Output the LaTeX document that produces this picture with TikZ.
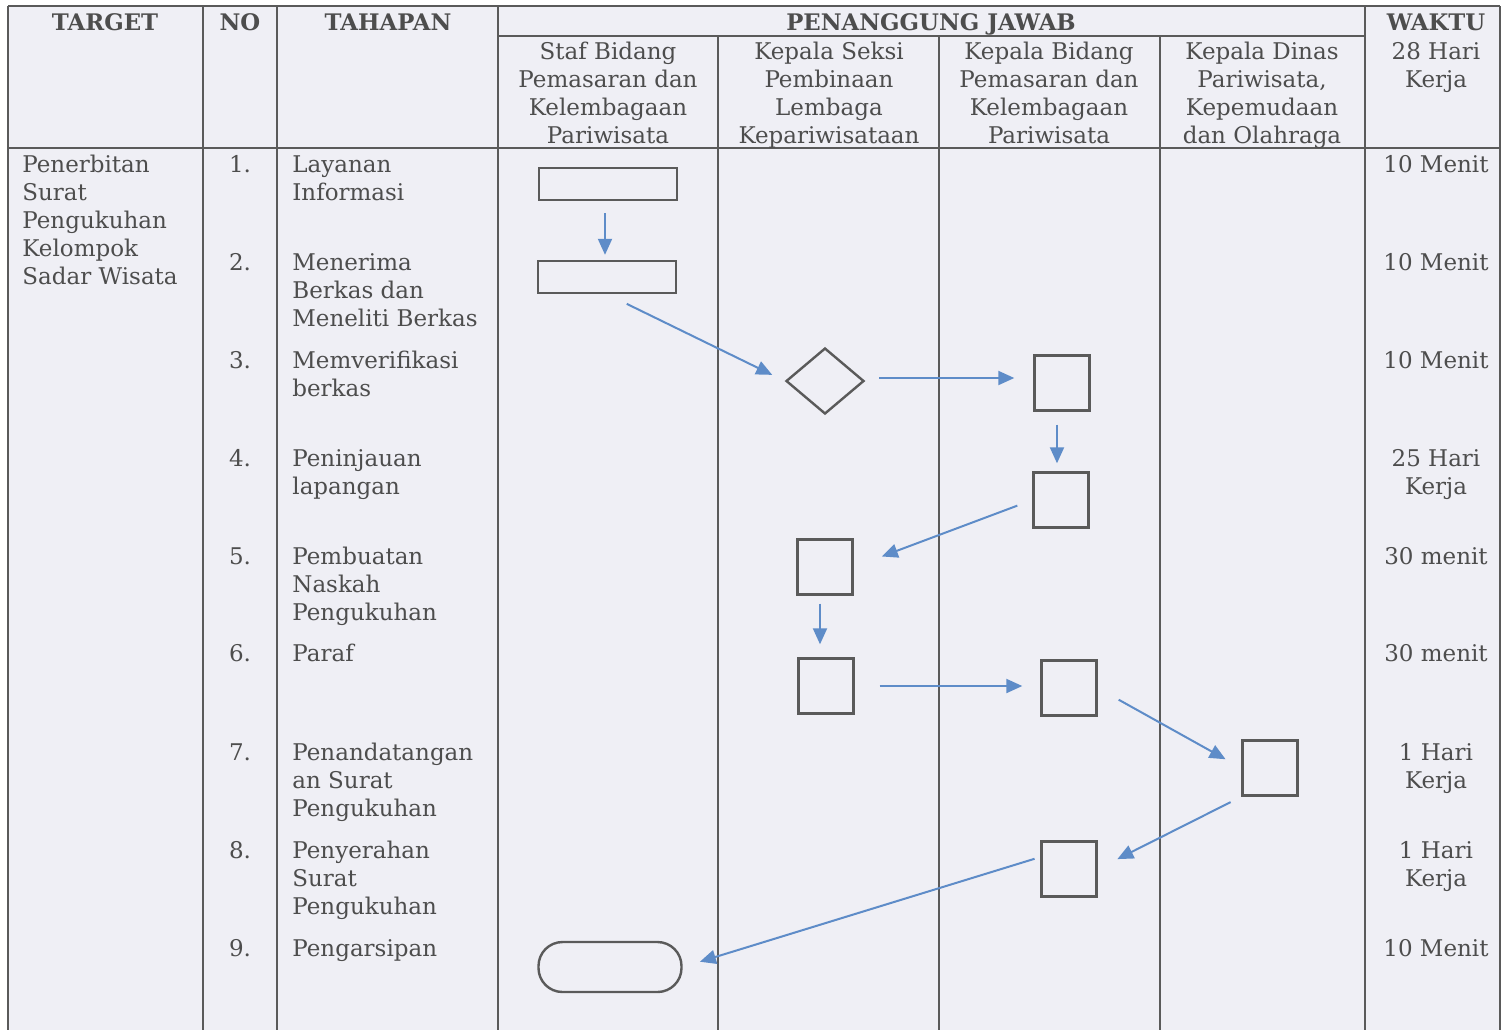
\documentclass[tikz,border=0pt]{standalone}
\usepackage{fontspec}
\setmainfont{DejaVu Serif}
\usetikzlibrary{arrows.meta,shapes.geometric}
\definecolor{ink}{HTML}{4D4D4D}
\definecolor{rule}{HTML}{5A5A5A}
\definecolor{lane}{HTML}{EFEFF5}
\definecolor{flow}{HTML}{5E8CC8}

\begin{document}
\begin{tikzpicture}[x=0.5pt,y=-0.5pt,
		every node/.style={font=\fontsize{11.5}{14}\selectfont, text=ink, inner sep=0pt},
		head/.style={font=\fontsize{11.4}{14}\selectfont\bfseries, anchor=north},
		sub/.style={anchor=north, align=center},
		txt/.style={anchor=north west, align=left},
		proc/.style={draw=rule, line width=1.2pt, minimum width=27.5pt, minimum height=27.5pt},
		wide/.style={proc, minimum width=69pt, minimum height=16pt},
		decide/.style={draw=rule, line width=1.2pt, diamond, minimum width=39pt, minimum height=33pt},
		term/.style={draw=rule, line width=1.2pt, rounded corners=12pt, minimum width=71.5pt, minimum height=25pt},
		arr/.style={-{Triangle[length=8pt,width=7pt]}, draw=flow, line width=1pt}
	]
	\useasboundingbox (0,0) rectangle (1510,1030);
	\fill[lane] (8,6) rectangle (1500,1030);
	\foreach \x in {8,203,277,498,1365,1500}
		\draw[rule, line width=0.9pt] (\x,6) -- (\x,1030);
	\foreach \x in {718,939,1160}
		\draw[rule, line width=0.9pt] (\x,36) -- (\x,1030);
	\draw[rule, line width=0.9pt] (8,6) -- (1500,6);
	\draw[rule, line width=0.9pt] (498,36) -- (1365,36);
	\draw[rule, line width=0.9pt] (8,148) -- (1500,148);

	\node[head] (hTarget) at (105,13) {TARGET};
	\node[head] (hNo) at (240,13) {NO};
	\node[head] (hTahap) at (388,13) {TAHAPAN};
	\node[head] (hPJ) at (931,13) {PENANGGUNG JAWAB};
	\node[head] (hWaktu) at (1436,13) {WAKTU};

	\node[sub] (pStaf) at (608,42) {Staf Bidang\\Pemasaran dan\\Kelembagaan\\Pariwisata};
	\node[sub] (pKasi) at (829,42) {Kepala Seksi\\Pembinaan\\Lembaga\\Kepariwisataan};
	\node[sub] (pKabid) at (1049,42) {Kepala Bidang\\Pemasaran dan\\Kelembagaan\\Pariwisata};
	\node[sub] (pKadis) at (1262,42) {Kepala Dinas\\Pariwisata,\\Kepemudaan\\dan Olahraga};
	\node[sub] (pTotal) at (1436,42) {28 Hari\\Kerja};

	\node[txt] (target) at (22,155) {Penerbitan\\Surat\\Pengukuhan\\Kelompok\\Sadar Wisata};

	\node[anchor=north] (n1) at (240,155) {1.};
	\node[anchor=north] (n2) at (240,253) {2.};
	\node[anchor=north] (n3) at (240,351) {3.};
	\node[anchor=north] (n4) at (240,449) {4.};
	\node[anchor=north] (n5) at (240,547) {5.};
	\node[anchor=north] (n6) at (240,644) {6.};
	\node[anchor=north] (n7) at (240,743) {7.};
	\node[anchor=north] (n8) at (240,841) {8.};
	\node[anchor=north] (n9) at (240,939) {9.};

	\node[txt] (t1) at (292,155) {Layanan\\Informasi};
	\node[txt] (t2) at (292,253) {Menerima\\Berkas dan\\Meneliti Berkas};
	\node[txt] (t3) at (292,351) {Memverifikasi\\berkas};
	\node[txt] (t4) at (292,449) {Peninjauan\\lapangan};
	\node[txt] (t5) at (292,547) {Pembuatan\\Naskah\\Pengukuhan};
	\node[txt] (t6) at (292,644) {Paraf};
	\node[txt] (t7) at (292,743) {Penandatangan\\an Surat\\Pengukuhan};
	\node[txt] (t8) at (292,841) {Penyerahan\\Surat\\Pengukuhan};
	\node[txt] (t9) at (292,939) {Pengarsipan};

	\node[sub] (w1) at (1436,155) {10 Menit};
	\node[sub] (w2) at (1436,253) {10 Menit};
	\node[sub] (w3) at (1436,351) {10 Menit};
	\node[sub] (w4) at (1436,449) {25 Hari\\Kerja};
	\node[sub] (w5) at (1436,547) {30 menit};
	\node[sub] (w6) at (1436,644) {30 menit};
	\node[sub] (w7) at (1436,743) {1 Hari\\Kerja};
	\node[sub] (w8) at (1436,841) {1 Hari\\Kerja};
	\node[sub] (w9) at (1436,939) {10 Menit};

	\node[wide] (s1) at (608,184) {};
	\node[wide] (s2) at (607,277) {};
	\node[decide] (s3) at (825,381) {};
	\node[proc] (s3b) at (1062,383) {};
	\node[proc] (s4) at (1061,500) {};
	\node[proc] (s5) at (825,567) {};
	\node[proc] (s6) at (826,686) {};
	\node[proc] (s6b) at (1069,688) {};
	\node[proc] (s7) at (1270,768) {};
	\node[proc] (s8) at (1069,869) {};
	\node[term] (s9) at (610,967) {};

	\draw[arr, shorten <=6pt, shorten >=2.5pt] ([xshift=-1.5pt]s1.south) -- ([xshift=-1.5pt]s1.south |- s2.north);
	\draw[arr, shorten <=11pt, shorten >=7pt] (s2.south) -- (s3.west);
	\draw[arr, shorten <=7pt, shorten >=9.5pt] ([yshift=1.5pt]s3.east) -- ([yshift=1.5pt]s3.east -| s3b.west);
	\draw[arr, shorten <=6.5pt, shorten >=4pt] ([xshift=-2.5pt]s3b.south) -- ([xshift=-2.5pt]s3b.south |- s4.north);
	\draw[arr, shorten <=8pt, shorten >=15pt] (s4.west) -- (s5.east);
	\draw[arr, shorten <=4pt, shorten >=6.5pt] ([xshift=-2.5pt]s5.south) -- ([xshift=-2.5pt]s5.south |- s6.north);
	\draw[arr, shorten <=12.5pt, shorten >=9pt] (s6.east) -- (s6.east -| s6b.west);
	\draw[arr, shorten <=12pt, shorten >=9pt] (s6b.east) -- (s7.west);
	\draw[arr, shorten <=6pt, shorten >=11pt] (s7.south west) -- (s8.east);
	\draw[arr, shorten <=3pt, shorten >=9pt] ([yshift=6pt]s8.west) -- (s9.east);
\end{tikzpicture}
\end{document}
